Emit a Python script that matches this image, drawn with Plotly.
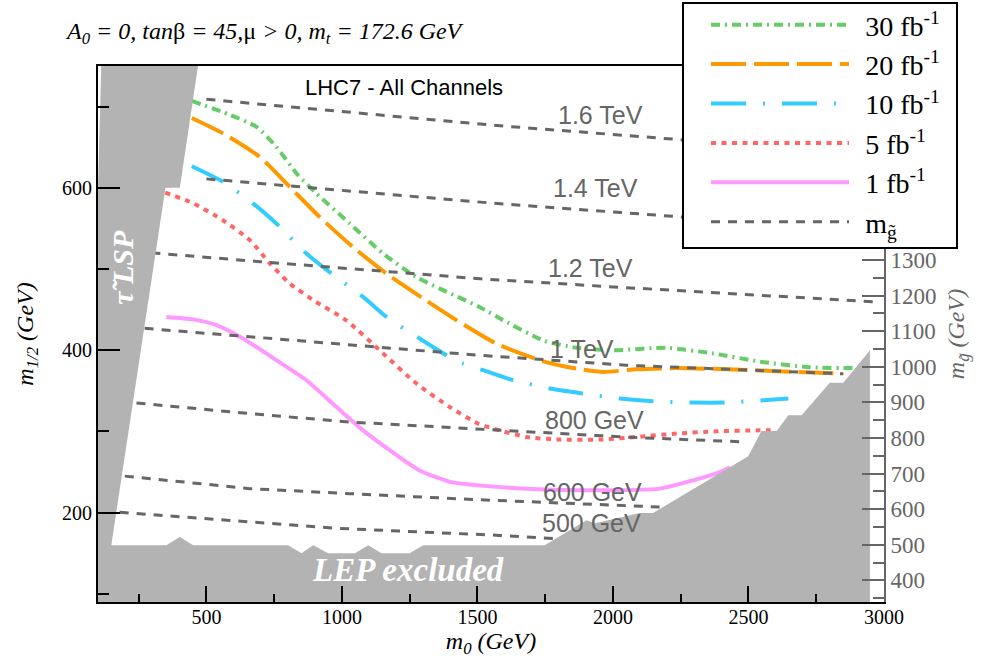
import plotly.graph_objects as go

# ---------------- data ----------------
# discovery-reach contours (m0 [GeV], m1/2 [GeV])
c30_x = [446, 586, 685, 758, 832, 906, 1029, 1152, 1275, 1509, 1595, 1743, 1866, 1999, 2198, 2370, 2542, 2727, 2899]
c30_y = [707, 690, 675, 650.5, 618, 593, 556, 519, 490, 453, 437, 412, 403, 400, 403, 396, 386, 379, 378]

c20_x = [446, 561, 697, 808, 918, 1041, 1164, 1300, 1423, 1570, 1743, 1866, 1964, 2087, 2235, 2420, 2604, 2838]
c20_y = [686, 667, 638, 601, 564, 527, 494.5, 463.7, 437, 408, 386.4, 377.4, 373.3, 376.6, 378, 376.6, 374.2, 371.3]

c10_x = [446, 561, 672, 771, 869, 961, 1078, 1164, 1287, 1386, 1447, 1521, 1632, 1767, 1890, 2025, 2148, 2296, 2420, 2555, 2647]
c10_y = [626.5, 607.4, 580.8, 552, 519, 494.5, 465.7, 441, 414.4, 393.8, 383.6, 375.4, 363, 352.8, 346.6, 340.5, 337.2, 335.6, 335.6, 338.4, 340.5]

c5_x = [348, 451, 561, 660, 734, 808, 900, 1015, 1152, 1275, 1398, 1503, 1558, 1681, 1804, 1952, 2087, 2235, 2383, 2542, 2600]
c5_y = [594, 581, 560, 535.6, 507, 482, 460.5, 437, 396, 359, 330, 309.6, 303.5, 293.2, 290, 290, 293.2, 297.4, 300.2, 301.4, 301.4]

c1_x = [352, 451, 537, 635, 758, 869, 980, 1078, 1177, 1287, 1398, 1503, 1681, 1927, 2172, 2272, 2395, 2431]
c1_y = [441, 438, 430.8, 414.4, 387.7, 363, 330, 301.4, 276.8, 252, 237.9, 233.6, 229.6, 227.5, 229.6, 237.7, 250, 256]

# gluino mass iso-lines
g1600_x = [500, 1000, 1560, 2258]
g1600_y = [709, 694, 677, 659]
g1400_x = [500, 1000, 1560, 2258]
g1400_y = [611, 597, 581, 564]
g1200_x = [297, 700, 1510, 2000, 2973]
g1200_y = [520, 509, 488, 478, 459.5]
g1000_x = [272, 660, 1030, 1500, 2050, 2420, 2850]
g1000_y = [427, 416.5, 406, 394, 381.5, 376.6, 371]
g800_x = [242, 660, 1030, 1470, 2050, 2495]
g800_y = [335, 322, 311.6, 303.5, 293, 287]
g600_x = [199, 660, 1030, 1500, 2172]
g600_y = [245, 229.6, 223.4, 216, 207]
g500_x = [180, 967, 1582, 1792]
g500_y = [200.5, 181, 172, 168]
gluino_labels = ["1.6 TeV", "1.4 TeV", "1.2 TeV", "1 TeV", "800 GeV", "600 GeV", "500 GeV"]

# excluded regions
stau_x = [100, 100, 112, 469, 402, 349, 149, 149]
stau_y = [90, 600, 750, 750, 600, 600, 160, 90]
lep_x = [100, 100, 352, 402, 451, 801, 851, 894, 949, 1048, 1097, 1146, 1250, 1300, 1748, 1902, 1933,
         2099, 2148, 2185, 2499, 2548, 2604, 2647, 2696, 2800, 2850, 2948, 2948]
lep_y = [90, 160, 160, 170, 160, 160, 150, 160, 150, 150, 160, 150, 150, 160, 160, 190.6, 187,
         199.5, 199.5, 207, 269.4, 300.6, 300.6, 320, 320, 360, 360, 400, 90]

lumi_names = ["30 fb<sup>-1</sup>", "20 fb<sup>-1</sup>", "10 fb<sup>-1</sup>", "5 fb<sup>-1</sup>", "1 fb<sup>-1</sup>"]

# right-axis (gluino mass) tick values
mg_ticks = [400, 500, 600, 700, 800, 900, 1000, 1100, 1200, 1300]
mg_minor = [350, 450, 550, 650, 750, 850, 950, 1050, 1150, 1250, 1350]

# ---------------- figure ----------------
fig = go.Figure()

curves = [
    (c30_x, c30_y, "#66CC66", "9px,5px,2px,5px"),
    (c20_x, c20_y, "#FF9900", "35px,8px"),
    (c10_x, c10_y, "#33CCFF", "35px,17px,2px,17px"),
    (c5_x, c5_y, "#FF6666", "5px,5.5px"),
    (c1_x, c1_y, "#FF99FF", "solid"),
]
pad = "\u2009\u2009"
for (cx, cy, col, dash), nm in zip(curves, lumi_names):
    fig.add_trace(go.Scatter(
        x=cx, y=cy, mode="lines", name=pad + nm, legendgroup=nm,
        line=dict(color=col, width=4, dash=dash, shape="spline", smoothing=0.6),
        hoverinfo="skip"))

glines = [(g1600_x, g1600_y), (g1400_x, g1400_y), (g1200_x, g1200_y), (g1000_x, g1000_y),
          (g800_x, g800_y), (g600_x, g600_y), (g500_x, g500_y)]
gx, gy = [], []
for lx, ly in glines:
    gx += list(lx) + [None]
    gy += list(ly) + [None]
fig.add_trace(go.Scatter(
    x=gx, y=gy, mode="lines", name=pad + "m<sub>g\u0303</sub>", legendgroup="mg",
    line=dict(color="#666666", width=3, dash="9px,8px"), connectgaps=False, hoverinfo="skip"))

for rx, ry in [(stau_x, stau_y), (lep_x, lep_y)]:
    fig.add_trace(go.Scatter(
        x=rx, y=ry, mode="lines", fill="toself", fillcolor="#B3B3B3",
        line=dict(width=0, color="#B3B3B3"), showlegend=False, hoverinfo="skip"))

# dummy trace to activate right axis
fig.add_trace(go.Scatter(x=[None], y=[None], yaxis="y2", showlegend=False, hoverinfo="skip"))

# ---------------- layout ----------------
L, R, T, B = 98, 884, 66, 602
def px(p):
    return (p - L) / (R - L)
def py(p):
    return (B - p) / (B - T)

annotations = []
label_pos = [(1789, 690), (1771, 600), (1752, 501), (1760, 401), (1741, 314), (1734, 226), (1730, 187)]
for txt, (lx, ly) in zip(gluino_labels, label_pos):
    annotations.append(dict(x=lx, y=ly, xref="x", yref="y", text=txt, showarrow=False,
                            xanchor="left", yanchor="middle",
                            font=dict(family="Liberation Sans", size=25, color="#666666")))
annotations += [
    dict(x=px(264), y=py(33), xref="paper", yref="paper", showarrow=False,
         xanchor="center", yanchor="middle",
         text="<i>A<sub>0</sub> = 0, tan</i>β<i> = 45,</i>μ<i> &gt; 0, m<sub>t</sub> = 172.6 GeV</i>",
         font=dict(family="Liberation Serif", size=24, color="black")),
    dict(x=px(404), y=py(88), xref="paper", yref="paper", showarrow=False,
         xanchor="center", yanchor="middle",
         text="LHC7 - All Channels", font=dict(family="Liberation Sans", size=22, color="black")),
    dict(x=1243, y=129, xref="x", yref="y", showarrow=False, xanchor="center", yanchor="middle",
         text="<b><i>LEP excluded</i></b>", font=dict(family="Liberation Serif", size=33, color="white")),
    dict(x=190, y=502, xref="x", yref="y", showarrow=False, textangle=-90,
         xanchor="center", yanchor="middle",
         text="<b><i>\u03c4\u0303 LSP</i></b>", font=dict(family="Liberation Serif", size=30, color="white")),
]

fig.update_layout(
    width=985, height=664,
    margin=dict(l=L, r=985 - R, t=T, b=664 - B, autoexpand=False),
    paper_bgcolor="white", plot_bgcolor="white",
    font=dict(family="Liberation Serif", color="black"),
    showlegend=True,
    legend=dict(x=px(706), y=py(0), xanchor="left", yanchor="top",
                bgcolor="rgba(0,0,0,0)", borderwidth=0, itemwidth=138,
                tracegroupgap=9, traceorder="normal",
                font=dict(family="Liberation Serif", size=28, color="black")),
    xaxis=dict(range=[100, 3000], tick0=0, dtick=500, ticks="inside", ticklen=16, tickwidth=2,
               tickcolor="black", showline=True, linecolor="black", linewidth=2, mirror=True,
               showgrid=False, zeroline=False, ticklabelstandoff=-4,
               tickfont=dict(family="Liberation Serif", size=20, color="black"),
               minor=dict(ticks="inside", ticklen=8, tickwidth=2, dtick=250, tickcolor="black", showgrid=False),
               title=dict(text="<i>m<sub>0</sub> (GeV)</i>", standoff=4,
                          font=dict(family="Liberation Serif", size=24, color="black"))),
    yaxis=dict(range=[90, 750], tick0=0, dtick=200, ticks="inside", ticklen=22, tickwidth=2,
               tickcolor="black", showline=True, linecolor="black", linewidth=2,
               showgrid=False, zeroline=False,
               tickfont=dict(family="Liberation Serif", size=20, color="black"),
               minor=dict(ticks="inside", ticklen=11, tickwidth=2, dtick=100, tickcolor="black", showgrid=False),
               title=dict(text="<i>m<sub>1/2</sub> (GeV)</i>", standoff=22,
                          font=dict(family="Liberation Serif", size=24, color="black"))),
    yaxis2=dict(overlaying="y", side="right", range=[339, 1845.6], tickmode="array", tickvals=mg_ticks,
                ticks="inside", ticklen=22, tickwidth=2, tickcolor="#666666",
                showline=True, linecolor="#666666", linewidth=2, showgrid=False, zeroline=False,
                tickfont=dict(family="Liberation Serif", size=23, color="#666666"),
                minor=dict(ticks="inside", ticklen=11, tickwidth=2, tickmode="array", tickvals=mg_minor,
                           tickcolor="#666666", showgrid=False),
                title=dict(text="<i>m<sub>g\u0303</sub> (GeV)</i>", standoff=12,
                           font=dict(family="Liberation Serif", size=24, color="#666666"))),
    shapes=[dict(type="rect", xref="paper", yref="paper", x0=px(683), x1=px(957), y0=py(248), y1=py(3),
                 fillcolor="white", line=dict(color="black", width=2), layer="above")],
    annotations=annotations,
)

fig.write_html("out.html", config={"displayModeBar": False},
               post_script="document.body.style.margin='0px';")
